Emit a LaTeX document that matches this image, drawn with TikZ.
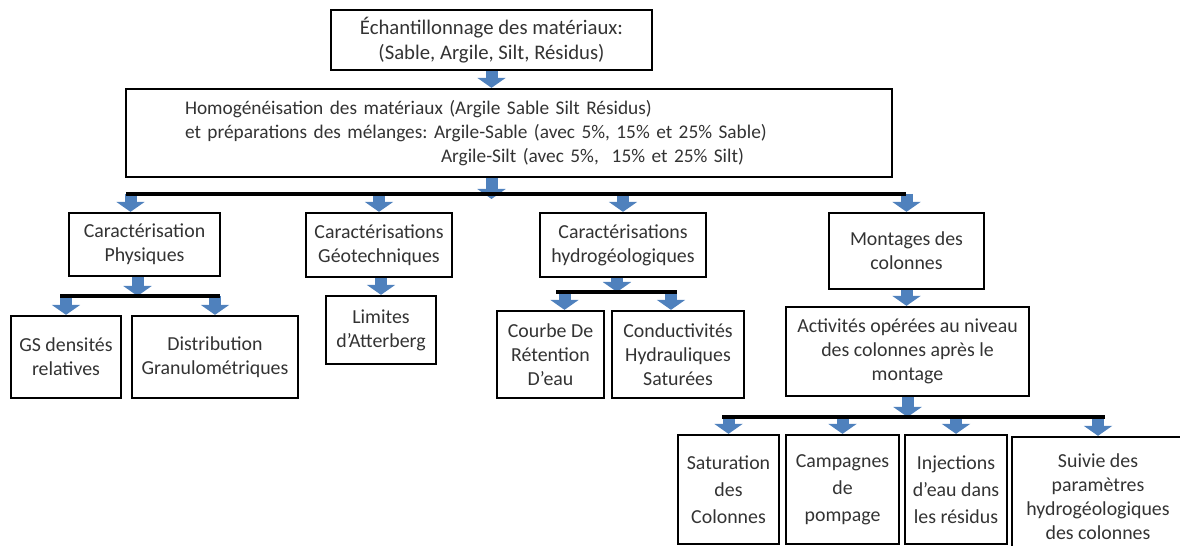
\documentclass[tikz,border=0pt]{standalone}
\usepackage{fontspec}
\setmainfont{Carlito}
\usetikzlibrary{arrows.meta}
\definecolor{bleu}{HTML}{4F81BD}
\frenchspacing

\begin{document}
\begin{tikzpicture}[x=0.02cm,y=-0.02cm]
\tikzstyle{boite} = [draw, line width=1.3pt, inner sep=0pt, align=center, text=black!80, font=\fontsize{11.3}{13.7}\selectfont]
\tikzstyle{barre} = [line width=2.2pt]
\tikzstyle{fleche} = [draw=bleu, line width=0.24cm, -{Triangle[width=0.56cm,length=0.2cm]}]
\def\px{0.02cm}

% Cadre
\clip (0,0) rectangle (1180,546);

% Boites
\node[boite, font=\fontsize{11.8}{14.2}\selectfont, minimum width=321*\px, minimum height=60*\px] (echant) at (491.5,40)
  {Échantillonnage des matériaux:\\(Sable, Argile, Silt, Résidus)};
\node[boite, font=\fontsize{11}{13.7}\selectfont, align=left, text width=648*\px, inner xsep=59*\px, minimum height=88*\px] (homog) at (509,133)
  {Homogénéisation des matériaux (Argile Sable Silt Résidus)\\
   et préparations des mélanges: Argile-Sable (avec 5\%, 15\% et 25\% Sable)\\
   \phantom{et préparations des mélanges:\ }\hspace{0.14cm}Argile-Silt (avec 5\%,\ \ 15\% et 25\% Silt)};

\node[boite, minimum width=151*\px, minimum height=63*\px] (phys) at (144.5,244.5) {Caractérisation\\Physiques};
\node[boite, minimum width=146*\px, minimum height=64*\px] (geo) at (379,245) {Caractérisations\\Géotechniques};
\node[boite, minimum width=166*\px, minimum height=64*\px] (hydro) at (623,245) {Caractérisations\\hydrogéologiques};
\node[boite, minimum width=155*\px, minimum height=76*\px] (mont) at (906.5,251) {Montages des\\colonnes};

\node[boite, minimum width=110*\px, minimum height=82*\px] (gs) at (66,357) {GS densités\\relatives};
\node[boite, minimum width=166*\px, minimum height=82*\px] (distr) at (215,357) {Distribution\\Granulométriques};
\node[boite, minimum width=110*\px, minimum height=68*\px] (lim) at (381,330) {Limites\\d'Atterberg};
\node[boite, minimum width=107*\px, minimum height=87*\px] (courbe) at (550.5,354.5) {Courbe De\\Rétention\\D'eau};
\node[boite, minimum width=132*\px, minimum height=87*\px] (cond) at (678,354.5) {Conductivités\\Hydrauliques\\Saturées};
\node[boite, minimum width=243*\px, minimum height=89*\px] (activ) at (907.5,351.5) {Activités opérées au niveau\\des colonnes après le\\montage};

\node[boite, font=\fontsize{11.3}{15.4}\selectfont, minimum width=101*\px, minimum height=109*\px] (sat) at (728.5,489.5) {Saturation\\des\\Colonnes};
\node[boite, font=\fontsize{11.3}{15.4}\selectfont, minimum width=113*\px, minimum height=109*\px] (camp) at (842.5,489.5) {Campagnes\\de\\pompage};
\node[boite, font=\fontsize{11.3}{15.4}\selectfont, minimum width=102*\px, minimum height=109*\px] (inj) at (956,489.5) {Injections\\d'eau dans\\les résidus};
\node[boite, minimum width=172*\px, minimum height=120*\px] (suiv) at (1098,497) {Suivie des\\paramètres\\hydrogéologiques\\des colonnes};

% Barres
\coordinate (b1g) at (126,194);  \coordinate (b1d) at (906,194);
\coordinate (b2g) at (60,296);   \coordinate (b2d) at (220,296);
\coordinate (b3g) at (556,292);  \coordinate (b3d) at (677,292);
\coordinate (b4g) at (722,417);  \coordinate (b4d) at (1105,417);

% Fleches niveau 1
\draw[fleche] (echant.south) -- (echant.south |- homog.north);
\draw[fleche] (echant.south |- homog.south) -- ([yshift=-0.1cm]echant.south |- b1g);
\draw[fleche] ([xshift=-14*\px]phys.north |- b1g) -- ([xshift=-14*\px]phys.north);
\foreach \cible in {geo,hydro,mont} {
  \draw[fleche] (\cible.north |- b1g) -- (\cible.north);
}

% Fleches sous les caracterisations
\draw[fleche] ([xshift=-7*\px]phys.south) -- ([xshift=-7*\px]phys.south |- b2g);
\foreach \cible in {gs,distr} {
  \draw[fleche] (\cible.north |- b2g) -- (\cible.north);
}
\draw[fleche] (lim.north |- geo.south) -- (lim.north);
\draw[fleche] ([xshift=-6*\px]hydro.south) -- ([xshift=-6*\px]hydro.south |- b3g);
\draw[fleche] ([xshift=14*\px]courbe.north |- b3g) -- ([xshift=14*\px]courbe.north);
\draw[fleche] ([xshift=-7*\px]cond.north |- b3g) -- ([xshift=-7*\px]cond.north);

% Montage des colonnes
\draw[fleche] (mont.south) -- (mont.south |- activ.north);
\draw[fleche] (activ.south) -- (activ.south |- b4g);
\foreach \cible in {sat,camp,inj,suiv} {
  \draw[fleche] (\cible.north |- b4g) -- (\cible.north);
}

\draw[barre] (b1g) -- (b1d);
\draw[barre] (b2g) -- (b2d);
\draw[barre] (b3g) -- (b3d);
\draw[barre] (b4g) -- (b4d);

\end{tikzpicture}
\end{document}
